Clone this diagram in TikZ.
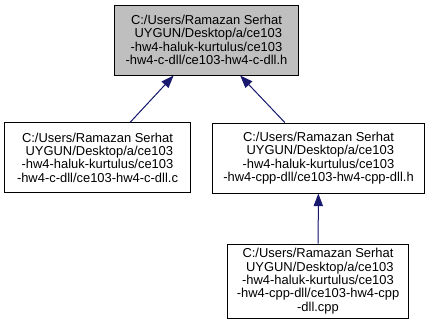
\documentclass[tikz,border=0pt]{standalone}
\usepackage{fontspec}
\setmainfont{Liberation Sans}
\usetikzlibrary{arrows.meta}

\definecolor{edgeblue}{HTML}{191970}
\definecolor{rootgray}{HTML}{BFBFBF}

\begin{document}
\begin{tikzpicture}[x=0.75pt,y=-0.75pt,
	file/.style={draw=black,line width=0.75pt,fill=white,align=center,inner sep=0pt,
		font=\fontsize{9.7pt}{10pt}\selectfont},
	incl/.style={draw=edgeblue,line width=0.75pt,-{Triangle[length=9.5pt,width=7pt]},fill=edgeblue}]
					\useasboundingbox (0,0) rectangle (429,333);
					
					\node[file,fill=rootgray,minimum width=137.3pt,minimum height=52.5pt] (hdr) at (206.5,40)
					{C:/Users/Ramazan Serhat\\\ UYGUN/Desktop/a/ce103\\-hw4-haluk-kurtulus/ce103\\-hw4-c-dll/ce103-hw4-c-dll.h};
					\node[file,minimum width=138.8pt,minimum height=51.8pt] (csrc) at (97.5,157.5)
					{C:/Users/Ramazan Serhat\\\ UYGUN/Desktop/a/ce103\\-hw4-haluk-kurtulus/ce103\\-hw4-c-dll/ce103-hw4-c-dll.c};
					\node[file,minimum width=158.3pt,minimum height=52.5pt] (cpphdr) at (318.5,158)
					{C:/Users/Ramazan Serhat\\\ UYGUN/Desktop/a/ce103\\-hw4-haluk-kurtulus/ce103\\-hw4-cpp-dll/ce103-hw4-cpp-dll.h};
					\node[file,minimum width=135.8pt,minimum height=55.5pt] (cppsrc) at (318,281)
					{C:/Users/Ramazan Serhat\\\ UYGUN/Desktop/a/ce103\\-hw4-haluk-kurtulus/ce103\\-hw4-cpp-dll/ce103-hw4-cpp\\-dll.cpp};
					
					\draw[incl] (csrc) -- (hdr);
					\draw[incl] (cpphdr) -- (hdr);
					\draw[incl] (cppsrc) -- (cpphdr);
				\end{tikzpicture}
\end{document}
